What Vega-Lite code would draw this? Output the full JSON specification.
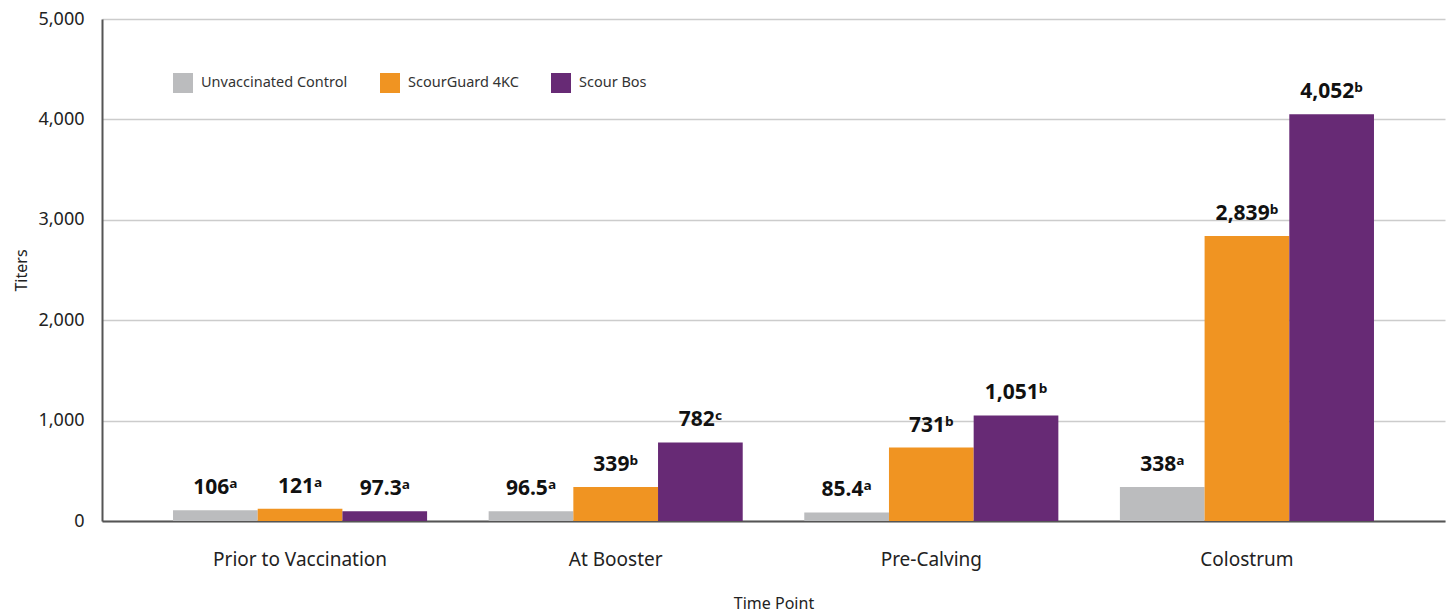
{
  "$schema": "https://vega.github.io/schema/vega-lite/v6.json",
  "autosize": {"type": "none"},
  "padding": {"left": 102, "top": 19, "right": 7, "bottom": 92},
  "width": 1343,
  "height": 502,
  "background": "white",
  "config": {
    "font": "Noto Sans",
    "view": {"stroke": null}
  },
  "data": {
    "values": [
      {"point": "Prior to Vaccination", "group": "Unvaccinated Control", "titer": 106, "label": "106ᵃ"},
      {"point": "Prior to Vaccination", "group": "ScourGuard 4KC", "titer": 121, "label": "121ᵃ"},
      {"point": "Prior to Vaccination", "group": "Scour Bos", "titer": 97.3, "label": "97.3ᵃ"},
      {"point": "At Booster", "group": "Unvaccinated Control", "titer": 96.5, "label": "96.5ᵃ"},
      {"point": "At Booster", "group": "ScourGuard 4KC", "titer": 339, "label": "339ᵇ"},
      {"point": "At Booster", "group": "Scour Bos", "titer": 782, "label": "782ᶜ"},
      {"point": "Pre-Calving", "group": "Unvaccinated Control", "titer": 85.4, "label": "85.4ᵃ"},
      {"point": "Pre-Calving", "group": "ScourGuard 4KC", "titer": 731, "label": "731ᵇ"},
      {"point": "Pre-Calving", "group": "Scour Bos", "titer": 1051, "label": "1,051ᵇ"},
      {"point": "Colostrum", "group": "Unvaccinated Control", "titer": 338, "label": "338ᵃ"},
      {"point": "Colostrum", "group": "ScourGuard 4KC", "titer": 2839, "label": "2,839ᵇ"},
      {"point": "Colostrum", "group": "Scour Bos", "titer": 4052, "label": "4,052ᵇ"}
    ]
  },
  "encoding": {
    "x": {
      "field": "point",
      "type": "nominal",
      "sort": ["Prior to Vaccination", "At Booster", "Pre-Calving", "Colostrum"],
      "scale": {"paddingInner": 0.195, "paddingOuter": 0.225},
      "axis": {
        "title": "Time Point",
        "titleFontSize": 16,
        "titleFontWeight": "normal",
        "titleColor": "#222",
        "titlePadding": 26,
        "labelAngle": 0,
        "labelFontSize": 19,
        "labelColor": "#222",
        "labelPadding": 29,
        "ticks": false,
        "domainColor": "#555",
        "domainWidth": 2,
        "grid": false
      }
    },
    "xOffset": {
      "field": "group",
      "type": "nominal",
      "sort": ["Unvaccinated Control", "ScourGuard 4KC", "Scour Bos"],
      "scale": {"paddingInner": 0, "paddingOuter": 0}
    },
    "y": {
      "field": "titer",
      "type": "quantitative",
      "scale": {"domain": [0, 5000]},
      "axis": {
        "title": "Titers",
        "titleFontSize": 16,
        "titleFontWeight": "normal",
        "titleColor": "#222",
        "titlePadding": 8,
        "values": [0, 1000, 2000, 3000, 4000, 5000],
        "format": ",.0f",
        "labelFontSize": 18,
        "labelColor": "#222",
        "labelPadding": 18,
        "ticks": false,
        "domainColor": "#555",
        "domainWidth": 2,
        "gridColor": "#cccccc",
        "gridWidth": 1.5
      }
    }
  },
  "layer": [
    {
      "mark": {"type": "bar"},
      "encoding": {
        "color": {
          "field": "group",
          "type": "nominal",
          "sort": ["Unvaccinated Control", "ScourGuard 4KC", "Scour Bos"],
          "scale": {
            "domain": ["Unvaccinated Control", "ScourGuard 4KC", "Scour Bos"],
            "range": ["#BBBCBE", "#F09422", "#672A75"]
          },
          "legend": {
            "title": null,
            "orient": "none",
            "direction": "horizontal",
            "legendX": 71,
            "legendY": 54,
            "symbolType": "square",
            "symbolSize": 400,
            "symbolStrokeWidth": 0,
            "labelFontSize": 14.5,
            "labelColor": "#333",
            "labelOffset": 8,
            "columnPadding": 32
          }
        }
      }
    },
    {
      "mark": {"type": "text", "baseline": "bottom", "dy": -12, "fontSize": 21, "fontWeight": "bold", "color": "#111"},
      "encoding": {
        "text": {"field": "label"}
      }
    }
  ]
}
